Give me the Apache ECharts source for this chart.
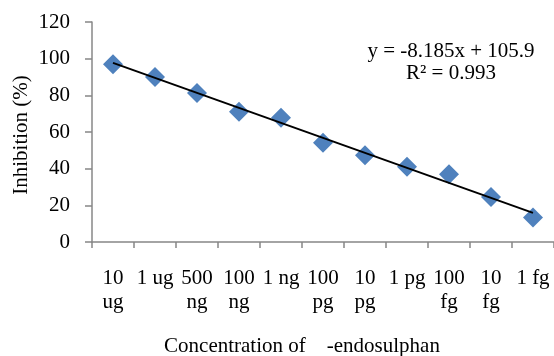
<!DOCTYPE html>
<html>
<head>
<meta charset="utf-8">
<script src="https://cdn.jsdelivr.net/npm/echarts@6/dist/echarts.min.js"></script>
<style>
  html, body { margin: 0; padding: 0; background: #fff; }
  #chart { width: 554px; height: 356px; }
</style>
</head>
<body>
<div id="chart"></div>
<script>
// concentrations (tick labels, wrapped like the original)
const concentrations = ['10\nug', '1 ug', '500\nng', '100\nng', '1 ng', '100\npg', '10\npg', '1 pg', '100\nfg', '10\nfg', '1 fg'];
// inhibition (%)
const inhibition = [96.9, 90.0, 81.3, 71.1, 67.8, 54.2, 47.3, 41.1, 36.9, 24.5, 13.3];
// linear trendline as printed on the chart
const trendSlope = -8.185;
const trendIntercept = 105.9;
const trendR2 = 0.993;

const FONT = '"Liberation Serif", "Times New Roman", serif';
const AXIS_COLOR = '#878787';

// trendline from x = 1 to x = n (category index 0 .. n-1)
const n = concentrations.length;
const trendData = [
  [0, trendSlope * 1 + trendIntercept],
  [n - 1, trendSlope * n + trendIntercept]
];

const chart = echarts.init(document.getElementById('chart'), null, { renderer: 'canvas' });

const option = {
  animation: false,
  // v6 would otherwise shrink the grid to fit labels
  grid: { left: 92, right: 0, top: 22, bottom: 114, containLabel: false, outerBoundsMode: 'none' },
  xAxis: {
    type: 'category',
    data: concentrations,
    boundaryGap: true,
    name: 'Concentration of    -endosulphan',
    nameLocation: 'middle',
    nameGap: 94,
    nameTextStyle: { fontFamily: FONT, fontSize: 21, color: '#000', padding: [0, 42, 0, 0] },
    axisLine: { lineStyle: { color: AXIS_COLOR, width: 1.5 } },
    axisTick: { show: true, length: 6, alignWithLabel: false, lineStyle: { color: AXIS_COLOR, width: 1.5 } },
    axisLabel: {
      interval: 0,
      margin: 24,
      fontFamily: FONT,
      fontSize: 21,
      lineHeight: 24,
      color: '#000'
    },
    splitLine: { show: false }
  },
  yAxis: {
    type: 'value',
    min: 0,
    max: 120,
    interval: 20,
    axisLine: { show: true, lineStyle: { color: AXIS_COLOR, width: 1.5 } },
    axisTick: { show: true, length: 7, lineStyle: { color: AXIS_COLOR, width: 1.5 } },
    axisLabel: { margin: 22, fontFamily: FONT, fontSize: 21, color: '#000' },
    splitLine: { show: false }
  },
  series: [
    {
      name: 'Inhibition',
      type: 'line',
      data: inhibition,
      symbol: 'diamond',
      symbolSize: 20,
      lineStyle: { width: 0 },
      itemStyle: { color: '#4F81BD' },
      z: 2
    },
    {
      name: 'Linear',
      type: 'line',
      data: trendData,
      symbol: 'none',
      lineStyle: { color: '#000', width: 2 },
      z: 3
    }
  ],
  graphic: [
    {
      // y axis title
      type: 'text',
      x: 21,
      y: 135,
      rotation: Math.PI / 2,
      style: {
        text: 'Inhibition (%)',
        font: '21px ' + FONT,
        fill: '#000',
        align: 'center',
        verticalAlign: 'middle'
      }
    },
    {
      type: 'text',
      x: 451,
      y: 51,
      style: {
        text: 'y = ' + trendSlope + 'x + ' + trendIntercept,
        font: '21px ' + FONT,
        fill: '#000',
        align: 'center',
        verticalAlign: 'middle'
      }
    },
    {
      type: 'text',
      x: 451,
      y: 73,
      style: {
        text: 'R² = ' + trendR2,
        font: '21px ' + FONT,
        fill: '#000',
        align: 'center',
        verticalAlign: 'middle'
      }
    }
  ]
};

chart.setOption(option);
</script>
</body>
</html>
